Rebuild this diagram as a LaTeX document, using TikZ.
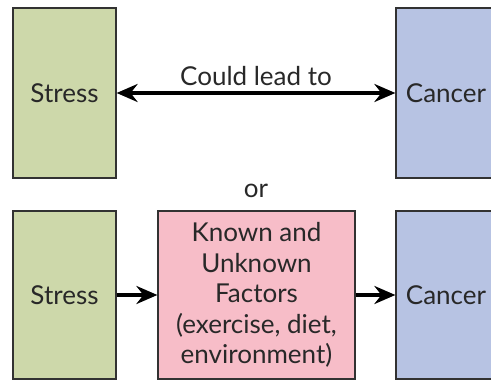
\documentclass[tikz,border=0pt]{standalone}
\usepackage{fontspec}
\setmainfont{Lato}
\usetikzlibrary{arrows.meta,positioning}
\definecolor{stressfill}{RGB}{205,216,170}
\definecolor{cancerfill}{RGB}{183,195,227}
\definecolor{factorfill}{RGB}{247,189,200}
\definecolor{boxline}{RGB}{50,50,50}
\definecolor{inktext}{RGB}{40,40,40}
\tikzset{
    lab/.style={
        font=\fontsize{26}{30.6}\selectfont, text=inktext
    }
}

\begin{document}
\begin{tikzpicture}[x=1pt,y=-1pt, line join=miter]

% box + arrow styles
\tikzset{
  box/.style={draw=boxline, line width=1.2pt, minimum width=103pt, minimum height=170pt, inner sep=0pt, lab, align=center},
  link/.style={line width=4pt, -{Stealth[length=21pt,width=18pt,inset=7pt]}},
  biglink/.style={line width=4pt, {Stealth[length=21pt,width=18pt,inset=7pt]}-{Stealth[length=21pt,width=18pt,inset=7pt]}},
}

  \useasboundingbox (0,0) rectangle (491,380);
  \clip (0,0) rectangle (491,380);

  % top row
  \node[box, fill=stressfill] (stressA) at (64.5,93) {Stress};
  \node[box, fill=cancerfill, minimum width=100pt] (cancerA) at (446,93) {Cancer};

  % bottom row
  \node[box, fill=stressfill, minimum height=168pt] (stressB) at (64.5,295) {Stress};
  \node[box, fill=factorfill, minimum width=197pt, minimum height=168pt] (factors) at (256.5,295)
    {Known and\\Unknown\\Factors\\(exercise, diet,\\environment)};
  \node[box, fill=cancerfill, minimum width=100pt, minimum height=168pt] (cancerB) at (446,295) {Cancer};

  % connectors
  \draw[biglink] (stressA) -- node[lab, above=2pt] (leadlab) {Could lead to} (cancerA);
  \draw[link] (stressB) -- (factors);
  \draw[link] (factors) -- (cancerB);

  % labels
  \node[lab] (orlab) at (256,191) {or};

\end{tikzpicture}
\end{document}
